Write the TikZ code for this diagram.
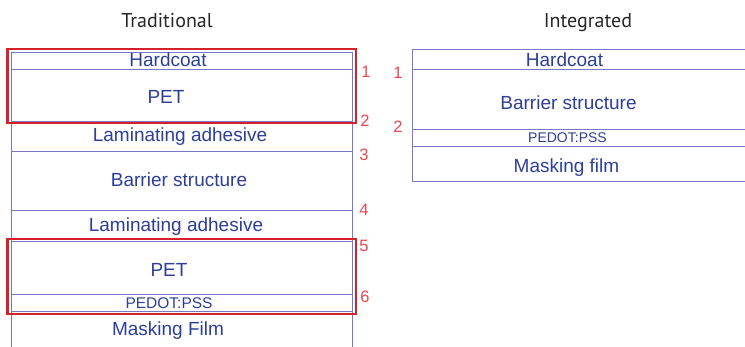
\documentclass[tikz,border=0pt]{standalone}
\usepackage{fontspec}
\setmainfont{Liberation Sans}
\newfontfamily\titlefont{PT Sans}
\definecolor{layerline}{RGB}{118,122,196}
\definecolor{labelblue}{RGB}{45,62,152}
\definecolor{numred}{RGB}{232,72,78}
\definecolor{boxred}{RGB}{214,32,42}
\tikzset{
  layer/.style={draw=layerline, line width=1pt},
  lbl/.style={anchor=base, inner sep=0pt, text=labelblue, font=\fontsize{19}{21}\selectfont},
  smalllbl/.style={anchor=base, inner sep=0pt, text=labelblue, font=\fontsize{15.5}{17}\selectfont},
  num/.style={anchor=base, inner sep=0pt, text=numred, font=\fontsize{16.5}{18}\selectfont},
  title/.style={anchor=base, inner sep=0pt, text=black!85, font=\titlefont\fontsize{20}{22}\selectfont},
  redbox/.style={draw=boxred, line width=2.4pt}
}
\begin{document}
\begin{tikzpicture}[x=1pt,y=-1pt]
\useasboundingbox (0,0) rectangle (745,346);
% titles
\node[title] (tTrad) at (167,27) {Traditional};
\node[title] (tInt) at (588,27) {Integrated};
% traditional stack
\draw[layer] (11,350) -- (11,52) -- (352,52) -- (352,350);
\foreach \yy in {69,121,151,210,241,294,311}
  \draw[layer] (11,\yy) -- (352,\yy);
\node[lbl] (h1) at (168,66.5) {Hardcoat};
\node[lbl] (p1) at (166,103) {PET};
\node[lbl] (la1) at (180,141) {Laminating adhesive};
\node[lbl] (b1) at (179,186) {Barrier structure};
\node[lbl] (la2) at (176,231) {Laminating adhesive};
\node[lbl] (p2) at (169,276) {PET};
\node[smalllbl] (pe1) at (169,308) {PEDOT:PSS};
\node[lbl] (m1) at (168,335) {Masking Film};
% red boxes
\draw[redbox] (7.5,49) rectangle (356,123);
\draw[redbox] (7.5,239) rectangle (356,314);
% traditional numbers
\node[num] (n1) at (366,77.5) {1};
\node[num] (n2) at (365,126.5) {2};
\node[num] (n3) at (364,160.5) {3};
\node[num] (n4) at (364,215.5) {4};
\node[num] (n5) at (364,251.5) {5};
\node[num] (n6) at (365,302.5) {6};
% integrated stack
\draw[layer] (750,49) -- (412,49) -- (412,181) -- (750,181);
\foreach \yy in {69,129,146}
  \draw[layer] (412,\yy) -- (750,\yy);
\node[lbl] (h2) at (564.5,66) {Hardcoat};
\node[lbl] (b2) at (568.5,109) {Barrier structure};
\node[smalllbl, font=\fontsize{14}{15}\selectfont] (pe2) at (567.5,142) {PEDOT:PSS};
\node[lbl] (m2) at (566.5,172) {Masking film};
\node[num] (i1) at (398,78) {1};
\node[num] (i2) at (398,132) {2};
\end{tikzpicture}
\end{document}
